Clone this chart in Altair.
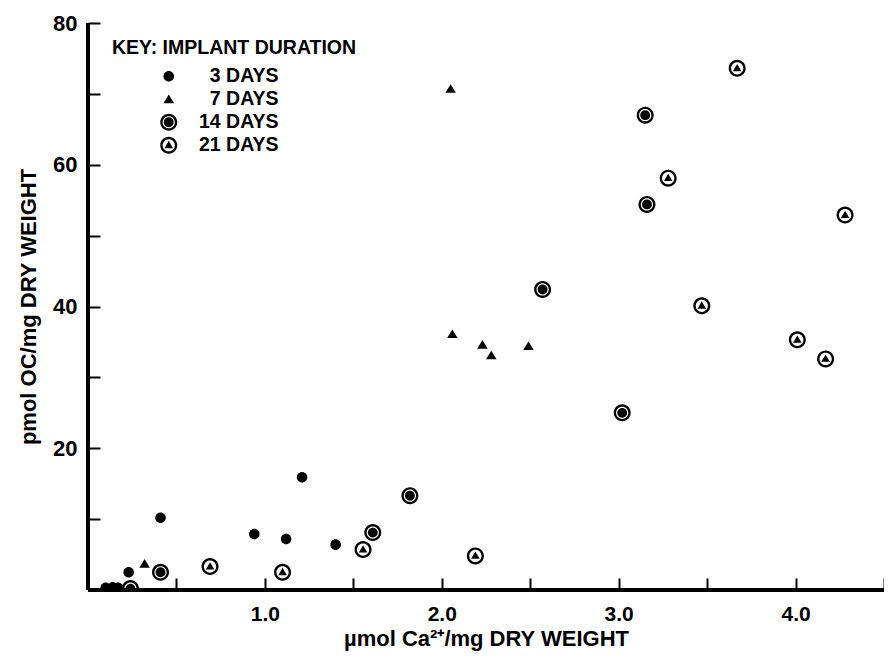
import altair as alt
import pandas as pd

# ---- data ----
durations = ["3 DAYS", "7 DAYS", "14 DAYS", "21 DAYS"]

ca_3d = [0.10, 0.14, 0.17, 0.23, 0.41, 0.94, 1.12, 1.21, 1.40]
oc_3d = [0.3, 0.4, 0.3, 2.5, 10.2, 7.9, 7.2, 15.9, 6.4]

ca_7d = [0.32, 2.05, 2.06, 2.23, 2.28, 2.49]
oc_7d = [3.7, 70.7, 36.1, 34.6, 33.1, 34.4]

ca_14d = [0.24, 0.41, 1.61, 1.82, 2.57, 3.02, 3.15, 3.16]
oc_14d = [0.2, 2.5, 8.1, 13.3, 42.4, 25.0, 67.0, 54.4]

ca_21d = [0.69, 1.10, 1.555, 2.19, 3.28, 3.47, 3.67, 4.01, 4.17, 4.28]
oc_21d = [3.3, 2.5, 5.7, 4.8, 58.1, 40.1, 73.6, 35.3, 32.6, 52.9]

x_ticks = [0.5, 1.0, 1.5, 2.0, 2.5, 3.0, 3.5, 4.0, 4.5]
y_ticks = [10, 20, 30, 40, 50, 60, 70, 80]

rows = []
for lab, xs, ys in zip(durations, [ca_3d, ca_7d, ca_14d, ca_21d],
                       [oc_3d, oc_7d, oc_14d, oc_21d]):
    for a, b in zip(xs, ys):
        rows.append({"ca": a, "oc": b, "dur": lab})
df = pd.DataFrame(rows)


def ring(r, cw):
    s = 1 if cw else 0
    return f"M{-r},0A{r},{r},0,1,{s},{r},0A{r},{r},0,1,{s},{-r},0Z"


shape_paths = [
    ring(0.62, True),
    "M0,-0.56L0.62,0.46L-0.62,0.46Z",
    ring(1, True) + ring(0.72, False) + ring(0.58, True),
    ring(1, True) + ring(0.72, False) + "M0,-0.52L0.5,0.34L-0.5,0.34Z",
]

F = "Liberation Sans"

x_scale = alt.Scale(domain=[0, 4.5], nice=False, zero=False)
y_scale = alt.Scale(domain=[0, 80], nice=False, zero=False)

x_axis = alt.Axis(
    values=x_ticks,
    labelExpr="datum.value % 1 == 0 ? format(datum.value, '.1f') : ''",
    offset=-12, tickSize=12, tickWidth=2, tickColor="black",
    domain=False, grid=False,
    labelFont=F, labelFontSize=21, labelFontWeight="bold", labelColor="black",
    labelPadding=13, labelFlush=False, labelOverlap=False,
    title="µmol Ca²⁺/mg DRY WEIGHT", titleFont=F, titleFontSize=22,
    titleFontWeight="bold", titleColor="black", titlePadding=4,
)
y_axis = alt.Axis(
    values=y_ticks,
    labelExpr="datum.value % 20 == 0 ? format(datum.value, 'd') : ''",
    offset=-12, tickSize=12, tickWidth=2, tickColor="black",
    domain=False, grid=False,
    labelFont=F, labelFontSize=22, labelFontWeight="bold", labelColor="black",
    labelPadding=11, labelOverlap=False,
    title="pmol OC/mg DRY WEIGHT", titleFont=F, titleFontSize=22,
    titleFontWeight="bold", titleColor="black", titlePadding=12,
)

points = alt.Chart(df).mark_point(
    filled=True, size=289, color="black", opacity=1, strokeWidth=0, clip=True
).encode(
    x=alt.X("ca:Q", scale=x_scale, axis=x_axis),
    y=alt.Y("oc:Q", scale=y_scale, axis=y_axis),
    shape=alt.Shape(
        "dur:N",
        scale=alt.Scale(domain=durations, range=shape_paths),
        legend=alt.Legend(
            title="KEY: IMPLANT DURATION", orient="none", legendX=24, legendY=16,
            titleFont=F, titleFontSize=19.5, titleFontWeight="bold", titleColor="black",
            titleLimit=500, titlePadding=8, labelFont=F, labelFontSize=19.5,
            labelFontWeight="bold", labelColor="black", labelAlign="right",
            labelLimit=300, symbolSize=289,
            symbolFillColor="black", symbolStrokeWidth=0, symbolOpacity=1,
            symbolOffset=47, labelOffset=100, rowPadding=2, padding=0,
        ),
    ),
)

x_line = alt.Chart(df).mark_rule(color="black", strokeWidth=3).encode(
    x=alt.datum(0, scale=x_scale), x2=alt.datum(4.5), y=alt.datum(0, scale=y_scale)
)
y_line = alt.Chart(df).mark_rule(color="black", strokeWidth=3).encode(
    x=alt.datum(0, scale=x_scale), y=alt.datum(0, scale=y_scale), y2=alt.datum(80)
)

chart = alt.layer(x_line, y_line, points).properties(
    width=796, height=567,
    autosize=alt.AutoSizeParams(type="none"),
    padding={"left": 80, "top": 15, "right": 0, "bottom": 70},
    background="white",
).configure_view(stroke=None)

chart.save("out.html", embed_options={"renderer": "svg", "actions": False})
